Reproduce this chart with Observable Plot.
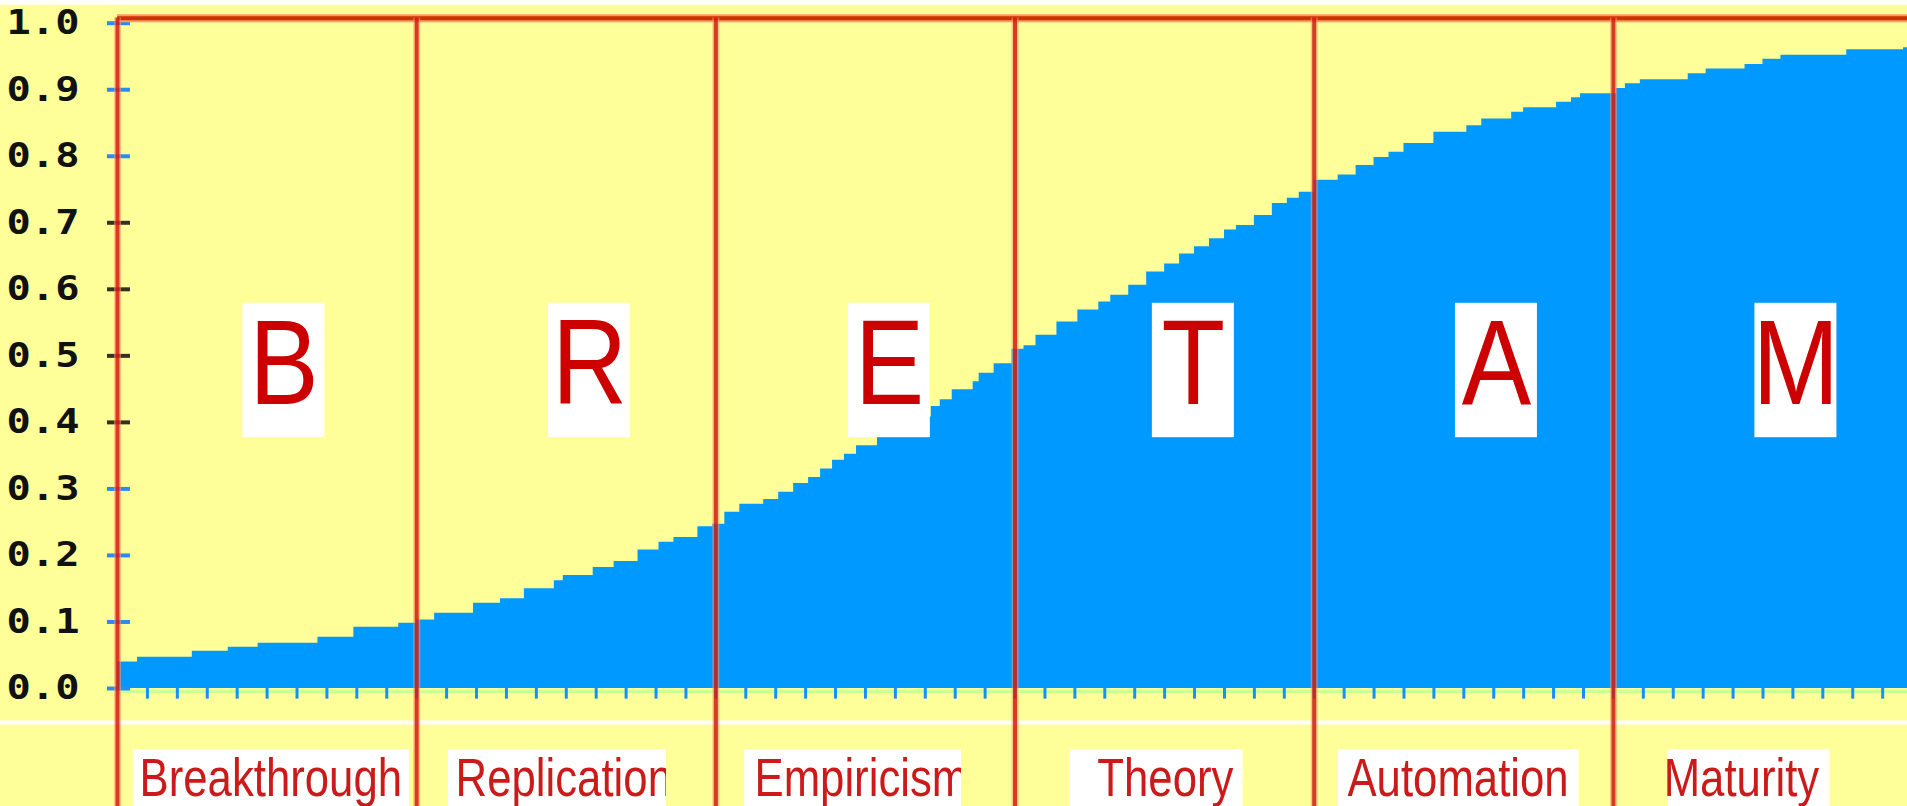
<!DOCTYPE html>
<html><head><meta charset="utf-8">
<script src="https://cdn.jsdelivr.net/npm/d3@7"></script>
<script src="https://cdn.jsdelivr.net/npm/@observablehq/plot@0.6"></script>
<style>html,body{margin:0;padding:0;background:#ffff99;overflow:hidden}</style>
</head><body><div id="chart"></div>
<script>
// ---- data ----
const phases = ["Breakthrough", "Replication", "Empiricism", "Theory", "Automation", "Maturity"];
const letters = ["B", "R", "E", "T", "A", "M"];
const phaseStarts = [0, 10, 20, 30, 40, 50];
const stepX = [0.0, 0.67, 2.5, 3.7, 4.7, 6.7, 7.9, 9.4, 10.0, 10.6, 11.9, 12.8, 13.6, 14.6, 14.9, 15.9, 16.6, 17.4, 18.1, 18.6,
  19.4, 19.9, 20.3, 20.8, 21.6, 22.1, 22.6, 23.1, 23.5, 23.9, 24.3, 24.7, 25.4, 26.0, 26.6, 27.2, 27.5, 27.9, 28.6, 28.8,
  29.3, 29.9, 30.3, 30.7, 31.4, 32.1, 32.8, 33.2, 33.8, 34.4, 35.0, 35.5, 36.0, 36.5, 37.0, 37.4, 38.0, 38.6, 39.1, 39.5,
  40.0, 40.8, 41.4, 42.0, 42.5, 43.0, 44.0, 45.1, 45.6, 46.6, 47.0, 48.1, 48.6, 48.9, 50.1, 50.4, 50.9, 52.5, 53.1, 54.4,
  55.0, 55.6, 57.8, 59.7, 59.83];
const stepY = [0.040, 0.047, 0.056, 0.062, 0.068, 0.077, 0.092, 0.098, 0.103, 0.113, 0.128, 0.135, 0.150, 0.162, 0.170, 0.182, 0.191, 0.208, 0.220, 0.227,
  0.243, 0.247, 0.265, 0.277, 0.284, 0.295, 0.308, 0.317, 0.330, 0.343, 0.352, 0.365, 0.378, 0.392, 0.408, 0.424, 0.434, 0.449, 0.461, 0.474,
  0.488, 0.510, 0.515, 0.531, 0.551, 0.569, 0.581, 0.591, 0.606, 0.626, 0.638, 0.653, 0.664, 0.676, 0.689, 0.696, 0.711, 0.729, 0.737, 0.746,
  0.764, 0.772, 0.786, 0.798, 0.806, 0.819, 0.836, 0.846, 0.856, 0.866, 0.873, 0.881, 0.888, 0.894, 0.902, 0.909, 0.915, 0.924, 0.931, 0.938,
  0.946, 0.952, 0.960, 0.963, 0.963];
const yTicks = [0, 0.1, 0.2, 0.3, 0.4, 0.5, 0.6, 0.7, 0.8, 0.9, 1.0];
const yTickLabels = ["0.0", "0.1", "0.2", "0.3", "0.4", "0.5", "0.6", "0.7", "0.8", "0.9", "1.0"];
const xTicks = d3.range(1, 60);

// ---- layout (in x units / y values) ----
const letterPos = [5.56, 15.78, 25.8, 35.96, 46.09, 56.1];
const labelBox = [[0.53, 9.76], [11.06, 18.35], [20.96, 28.21], [31.85, 37.63], [40.81, 48.86], [51.84, 57.25]];
const labelTextX = [0.735, 11.3, 21.29, 32.75, 41.11, 51.68];

const steps = stepX.map((x, i) => ({x, y: stepY[i]}));
const letterData = letters.map((t, i) => ({t, x: letterPos[i]}));
const labelData = phases.map((t, i) => ({t, x1: labelBox[i][0], x2: labelBox[i][1], tx: labelTextX[i]}));
const yTickData = yTicks.map((v, i) => ({v, label: yTickLabels[i]}));

const BG = "#ffff99";
const chart = Plot.plot({
  width: 1907, height: 806,
  marginLeft: 117, marginRight: 0, marginTop: 22.7, marginBottom: 118,
  x: {domain: [0, 59.83], axis: null},
  y: {domain: [0, 1], axis: null},
  style: {background: BG, overflow: "visible"},
  marks: [
    Plot.rect([0], {x1: -3.92, x2: 59.83, y1: 1.027, y2: 1.04, fill: "white"}),
    Plot.areaY(steps, {x: "x", y: "y", curve: "step-after", fill: "#0099ff"}),
    Plot.ruleY([0], {x1: 0, x2: 59.83, stroke: "#ccff99", strokeWidth: 3, dy: 3}),
    Plot.ruleX(xTicks, {x: d => d, y1: 0, y2: -0.016, stroke: "#1a8cff", strokeWidth: 3}),
    Plot.ruleY(yTickData, {y: "v", x1: -0.334, x2: 0.434, strokeWidth: 4,
      stroke: d => (d.v > 0.35 && d.v < 0.75) ? "#333322" : "#2a8cf0"}),
    Plot.text(yTickData, {y: "v", x: -2.49, text: "label", fontFamily: "DejaVu Sans Mono",
      fontWeight: "bold", fontSize: 34, fill: "#111", textAnchor: "middle", lineAnchor: "middle"}),
    // big phase letters
    Plot.rect(letterData, {x1: d => d.x - 1.37, x2: d => d.x + 1.37, y1: 0.377, y2: 0.579, fill: "white"}),
    Plot.text(letterData, {x: "x", y: 0.428, text: "t", fontFamily: "Liberation Sans, Arial, sans-serif",
      fontSize: 121, fill: "#cc0000", textAnchor: "middle", lineAnchor: "bottom"}),
    // bottom band
    Plot.ruleY([-0.051], {x1: -3.92, x2: 59.83, stroke: "white", strokeWidth: 4}),
    Plot.rect(labelData, {x1: "x1", x2: "x2", y1: -0.0922, y2: -0.2, fill: "white"}),
    Plot.text(labelData, {x: "tx", y: -0.162, text: "t", fontFamily: "Liberation Sans, Arial, sans-serif",
      fontSize: 54, fill: "#cc1a1a", textAnchor: "start", lineAnchor: "bottom"}),
    Plot.rect(labelData, {x1: "x2", x2: d => d.x2 + 0.2, y1: -0.0922, y2: -0.2, fill: BG}),
    // top border
    Plot.ruleY([1], {x1: 0, x2: 59.83, dy: -5, stroke: "#ff9966", strokeWidth: 8}),
    Plot.ruleY([1], {x1: 0, x2: 59.83, dy: -5, stroke: "#cc3300", strokeWidth: 4}),
    // phase boundaries
    Plot.ruleX(phaseStarts, {x: d => d, y1: -0.2, y2: 1.008, stroke: "#ff9966", strokeWidth: 7, strokeOpacity: 0.55}),
    Plot.ruleX(phaseStarts, {x: d => d, y1: -0.2, y2: 1.008, stroke: "#c80000", strokeWidth: 4, strokeOpacity: 0.7})
  ]
});
document.getElementById("chart").append(chart);

// compress glyphs horizontally like the original (narrow raster fonts)
d3.select(chart).selectAll("text").each(function () {
  const g = this.parentNode;
  const fs = +(this.getAttribute("font-size") || (g && g.getAttribute && g.getAttribute("font-size")) || 0);
  let L = null;
  if (fs === 121) L = this.getComputedTextLength() * 0.86;
  else if (fs === 54) L = this.getComputedTextLength() * 0.81;
  else if (fs === 34) L = 73;
  if (L) {
    this.setAttribute("textLength", L);
    this.setAttribute("lengthAdjust", "spacingAndGlyphs");
  }
});
</script>
</body></html>
